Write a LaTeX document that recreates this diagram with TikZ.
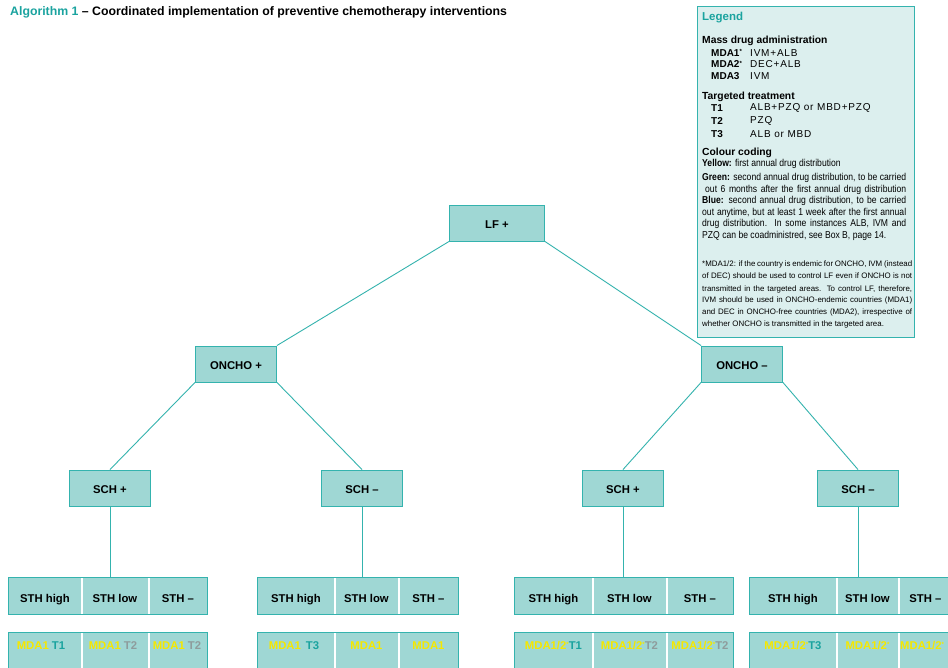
\documentclass[tikz,border=0pt]{standalone}
\usepackage{fontspec}
\setmainfont{Liberation Sans}
\newfontfamily\condfont[FakeStretch=0.86]{Liberation Sans}
\newfontfamily\spacedfont[LetterSpace=8]{Liberation Sans}
\usetikzlibrary{calc}
\definecolor{boxfill}{HTML}{9FD7D4}
\definecolor{boxline}{HTML}{34B3AE}
\definecolor{legfill}{HTML}{DCEFEE}
\definecolor{teal1}{HTML}{1AA39F}
\definecolor{yel}{HTML}{F5E800}
\definecolor{tgray}{HTML}{8E9C9C}
\newcommand\lblfont{\bfseries\fontsize{11.3}{12}\selectfont}
\newcommand\legfont{\condfont\fontsize{10}{11}\selectfont}
\newcommand\valfont{\spacedfont\fontsize{10}{11}\selectfont}
\newcommand\keyfont{\bfseries\fontsize{10}{11}\selectfont}
\newcommand\headfont{\bfseries\fontsize{10.3}{11}\selectfont}
\newcommand\notefont{\fontsize{7.9}{9}\selectfont}
\newcommand\Y[1]{\textcolor{yel}{#1}}
\newcommand\Tt[1]{\textcolor{teal1}{#1}}
\newcommand\Tg[1]{\textcolor{tgray}{#1}}
\newcommand\st{\raisebox{0.5ex}{\fontsize{6}{6}\selectfont *}}
\begin{document}
\begin{tikzpicture}[x=1pt,y=-1pt,
  box/.style={draw=boxline,fill=boxfill,line width=0.9pt,minimum width=81pt,minimum height=36pt,inner sep=0pt,font=\lblfont,text height=11pt,text depth=0pt},
  cell/.style={draw=boxline,fill=boxfill,line width=0.9pt,anchor=north west,inner sep=0pt,font=\lblfont},
  sthcell/.style={cell,minimum height=37pt,text height=13pt,text depth=0pt},
  mtxt/.style={inner sep=0pt,font=\lblfont,text height=8pt,text depth=2pt},
  conn/.style={draw=boxline,line width=0.9pt},
  sep/.style={draw=white,line width=1.6pt},
  ltxt/.style={anchor=west,inner sep=0pt}]
\useasboundingbox[fill=white] (0,0) rectangle (948,668);

% title
\node[ltxt,font=\bfseries\fontsize{12.3}{13}\selectfont] (title) at (10,12) {\textcolor{teal1}{Algorithm 1} -- Coordinated implementation of preventive chemotherapy interventions};

% tree
\node[box,minimum width=95pt] (lf) at (497,223) {LF +};
\node[box] (onchop) at (236,364) {ONCHO +};
\node[box] (onchom) at (742,364) {ONCHO --};
\node[box] (schpl) at (110,488) {SCH +};
\node[box] (schml) at (362,488) {SCH --};
\node[box] (schpr) at (623,488) {SCH +};
\node[box] (schmr) at (858,488) {SCH --};

\draw[conn] (lf.south west) -- (onchop.north east);
\draw[conn] (lf.south east) -- (onchom.north west);
\draw[conn] (onchop.south west) -- (schpl.north);
\draw[conn] (onchop.south east) -- (schml.north);
\draw[conn] (onchom.south west) -- (schpr.north);
\draw[conn] (onchom.south east) -- (schmr.north);

% group 1
\node[sthcell,minimum width=73pt] (s1a) at (8,577) {STH high};
\node[sthcell,minimum width=67pt] (s1b) at (81,577) {STH low};
\node[sthcell,minimum width=59pt] (s1c) at (148,577) {STH --};
\node[cell,minimum width=73pt,minimum height=40pt] (m1a) at (8,632) {};
\node[cell,minimum width=67pt,minimum height=40pt] (m1b) at (81,632) {};
\node[cell,minimum width=59pt,minimum height=40pt] (m1c) at (148,632) {};
\node[mtxt] (t1a) at ($(m1a.north)+(-4,14)$) {\Y{MDA1} \Tt{T1}};
\node[mtxt] (t1b) at ($(m1b.north)+(-2,14)$) {\Y{MDA1} \Tg{T2}};
\node[mtxt] (t1c) at ($(m1c.north)+(-1,14)$) {\Y{MDA1} \Tg{T2}};
% group 2
\node[sthcell,minimum width=77pt] (s2a) at (257,577) {STH high};
\node[sthcell,minimum width=64pt] (s2b) at (334,577) {STH low};
\node[sthcell,minimum width=60pt] (s2c) at (398,577) {STH --};
\node[cell,minimum width=77pt,minimum height=40pt] (m2a) at (257,632) {};
\node[cell,minimum width=64pt,minimum height=40pt] (m2b) at (334,632) {};
\node[cell,minimum width=60pt,minimum height=40pt] (m2c) at (398,632) {};
\node[mtxt] (t2a) at ($(m2a.north)+(-2,14)$) {\Y{MDA1}\, \Tt{T3}};
\node[mtxt] (t2b) at ($(m2b.north)+(0,14)$) {\Y{MDA1}};
\node[mtxt] (t2c) at ($(m2c.north)+(0,14)$) {\Y{MDA1}};
% group 3
\node[sthcell,minimum width=78pt] (s3a) at (514,577) {STH high};
\node[sthcell,minimum width=74pt] (s3b) at (592,577) {STH low};
\node[sthcell,minimum width=67pt] (s3c) at (666,577) {STH --};
\node[cell,minimum width=78pt,minimum height=40pt] (m3a) at (514,632) {};
\node[cell,minimum width=74pt,minimum height=40pt] (m3b) at (592,632) {};
\node[cell,minimum width=67pt,minimum height=40pt] (m3c) at (666,632) {};
\node[mtxt] (t3a) at ($(m3a.north)+(0,14)$) {\Y{MDA1/2\st}\Tt{T1}};
\node[mtxt] (t3b) at ($(m3b.north)+(0,14)$) {\Y{MDA1/2\st}\Tg{T2}};
\node[mtxt] (t3c) at ($(m3c.north)+(0,14)$) {\Y{MDA1/2\st}\Tg{T2}};
% group 4
\node[sthcell,minimum width=87pt] (s4a) at (749,577) {STH high};
\node[sthcell,minimum width=62pt] (s4b) at (836,577) {STH low};
\node[sthcell,minimum width=54pt] (s4c) at (898,577) {STH --};
\node[cell,minimum width=87pt,minimum height=40pt] (m4a) at (749,632) {};
\node[cell,minimum width=62pt,minimum height=40pt] (m4b) at (836,632) {};
\node[cell,minimum width=54pt,minimum height=40pt] (m4c) at (898,632) {};
\node[mtxt] (t4a) at ($(m4a.north)+(0,14)$) {\Y{MDA1/2\st}\Tt{T3}};
\node[mtxt] (t4b) at ($(m4b.north)+(0,14)$) {\Y{MDA1/2\st}};
\node[mtxt,anchor=west] (t4c) at ($(m4c.north west)+(2,14)$) {\Y{MDA1/2\st}};

% white separators
\foreach \c in {s1a,s1b,m1a,m1b,s2a,s2b,m2a,m2b,s3a,s3b,m3a,m3b,s4a,s4b,m4a,m4b}{
  \draw[sep] ($(\c.north east)+(0,1.2)$) -- ($(\c.south east)+(0,-1.2)$);
}

% vertical connectors
\draw[conn] (schpl.south) -- (schpl.south |- s1b.north);
\draw[conn] (schml.south) -- (schml.south |- s2b.north);
\draw[conn] (schpr.south) -- (schpr.south |- s3b.north);
\draw[conn] (schmr.south) -- (schmr.south |- s4b.north);

% legend
\node[draw=boxline,fill=legfill,line width=1pt,minimum width=217pt,minimum height=331pt,anchor=north west,inner sep=0pt] (legend) at (697,6) {};
\node[ltxt,font=\bfseries\fontsize{11.5}{12}\selectfont,text=teal1] (lg0) at (702,18) {Legend};
\node[ltxt,font=\headfont] (lg1) at (702,41) {Mass drug administration};
\node[ltxt,font=\keyfont] (lg2a) at (711,53) {MDA1\st};
\node[ltxt,font=\valfont] (lg2b) at (750,53) {IVM+ALB};
\node[ltxt,font=\keyfont] (lg3a) at (711,64.5) {MDA2\st};
\node[ltxt,font=\valfont] (lg3b) at (750,64.5) {DEC+ALB};
\node[ltxt,font=\keyfont] (lg4a) at (711,76) {MDA3};
\node[ltxt,font=\valfont] (lg4b) at (750,76) {IVM};
\node[ltxt,font=\headfont] (lg5) at (702,97) {Targeted treatment};
\node[ltxt,font=\keyfont] (lg6a) at (711,108) {T1};
\node[ltxt,font=\valfont] (lg6b) at (750,108) {ALB+PZQ or MBD+PZQ};
\node[ltxt,font=\keyfont] (lg7a) at (711,121) {T2};
\node[ltxt,font=\valfont] (lg7b) at (750,121) {PZQ};
\node[ltxt,font=\keyfont] (lg8a) at (711,134) {T3};
\node[ltxt,font=\valfont] (lg8b) at (750,134) {ALB or MBD};
\node[ltxt,font=\headfont] (lg9) at (702,153) {Colour coding};
\node[ltxt,font=\legfont] (lg10) at (702,164) {\textbf{Yellow:} first annual drug distribution};
\node[ltxt,font=\legfont] (lg11) at (702,178) {\makebox[204pt][s]{\textbf{Green:} second annual drug distribution, to be carried}};
\node[ltxt,font=\legfont] (lg12) at (705,189.5) {\makebox[201pt][s]{out 6 months after the first annual drug distribution}};
\node[ltxt,font=\legfont] (lg13) at (702,201) {\makebox[204pt][s]{\textbf{Blue:} second annual drug distribution, to be carried}};
\node[ltxt,font=\legfont] (lg14) at (702,212.5) {\makebox[204pt][s]{out anytime, but at least 1 week after the first annual}};
\node[ltxt,font=\legfont] (lg15) at (702,224) {\makebox[204pt][s]{drug distribution. In some instances ALB, IVM and}};
\node[ltxt,font=\legfont] (lg16) at (702,236) {PZQ can be coadministred, see Box B, page 14.};
\node[ltxt,font=\notefont] (lg17) at (702,264) {\makebox[210pt][s]{*MDA1/2: if the country is endemic for ONCHO, IVM (instead}};
\node[ltxt,font=\notefont] (lg18) at (702,276.5) {\makebox[210pt][s]{of DEC) should be used to control LF even if ONCHO is not}};
\node[ltxt,font=\notefont] (lg19) at (702,289) {\makebox[210pt][s]{transmitted in the targeted areas. To control LF, therefore,}};
\node[ltxt,font=\notefont] (lg20) at (702,300.5) {\makebox[210pt][s]{IVM should be used in ONCHO-endemic countries (MDA1)}};
\node[ltxt,font=\notefont] (lg21) at (702,312) {\makebox[210pt][s]{and DEC in ONCHO-free countries (MDA2), irrespective of}};
\node[ltxt,font=\notefont] (lg22) at (702,324) {whether ONCHO is transmitted in the targeted area.};
\end{tikzpicture}
\end{document}
